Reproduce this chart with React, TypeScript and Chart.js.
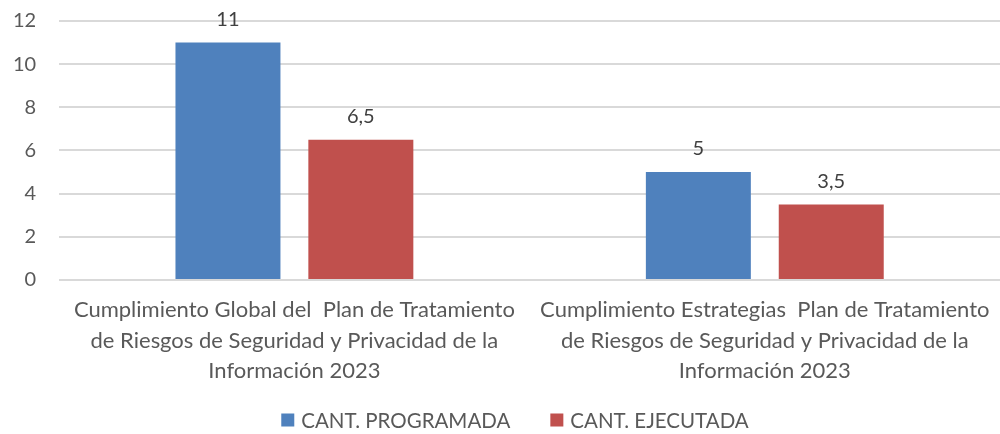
import React, { useEffect, useRef } from "react";
import { Chart, registerables } from "chart.js";

Chart.register(...registerables);

const categories: string[][] = [
  ["Cumplimiento Global del  Plan de Tratamiento", "de Riesgos de Seguridad y Privacidad de la", "Información 2023"],
  ["Cumplimiento Estrategias  Plan de Tratamiento", "de Riesgos de Seguridad y Privacidad de la", "Información 2023"],
];
const programada: number[] = [11, 5];
const ejecutada: number[] = [6.5, 3.5];
const seriesNames: string[] = ["CANT. PROGRAMADA", "CANT. EJECUTADA"];
const seriesColors: string[] = ["#4f81bd", "#c0504d"];

const FONT = "Lato, 'Open Sans', sans-serif";

const dataLabels = {
  id: "dataLabels",
  afterDatasetsDraw(chart: any) {
    const ctx = chart.ctx;
    ctx.save();
    ctx.font = `20px ${FONT}`;
    ctx.fillStyle = "#404040";
    ctx.textAlign = "center";
    ctx.textBaseline = "middle";
    chart.data.datasets.forEach((ds: any, i: number) => {
      const meta = chart.getDatasetMeta(i);
      meta.data.forEach((bar: any, j: number) => {
        const v = ds.data[j];
        ctx.fillText(String(v).replace(".", ","), bar.x, bar.y - 23);
      });
    });
    ctx.restore();
  },
};

const customLegend = {
  id: "customLegend",
  afterDraw(chart: any) {
    const ctx = chart.ctx;
    ctx.save();
    ctx.font = `20.5px ${FONT}`;
    const box = 13;
    const gapBox = 7;
    const gapItem = 40;
    const widths = chart.data.datasets.map((d: any) => box + gapBox + ctx.measureText(d.label).width);
    const total = widths.reduce((a: number, b: number) => a + b, 0) + gapItem * (widths.length - 1);
    let x = chart.width / 2 + 15 - total / 2;
    const y = 420;
    ctx.textBaseline = "middle";
    ctx.textAlign = "left";
    chart.data.datasets.forEach((d: any, i: number) => {
      ctx.fillStyle = d.backgroundColor;
      ctx.fillRect(x, y - box / 2, box, box);
      ctx.fillStyle = "#595959";
      ctx.fillText(d.label, x + box + gapBox, y + 1);
      x += widths[i] + gapItem;
    });
    ctx.restore();
  },
};

export default function App() {
  const ref = useRef<HTMLCanvasElement | null>(null);
  useEffect(() => {
    document.body.style.margin = "0";
    const chart = new Chart(ref.current!, {
      type: "bar",
      data: {
        labels: categories,
        datasets: [
          { label: seriesNames[0], data: programada, backgroundColor: seriesColors[0] },
          { label: seriesNames[1], data: ejecutada, backgroundColor: seriesColors[1] },
        ],
      },
      options: {
        responsive: false,
        animation: false,
        layout: { padding: { top: 21, right: 0, left: -10, bottom: 41 } },
        datasets: { bar: { categoryPercentage: 0.565, barPercentage: 0.79 } },
        plugins: {
          legend: { display: false },
          tooltip: { enabled: false },
        },
        scales: {
          x: {
            grid: { display: false },
            border: { display: false },
            ticks: {
              font: { family: FONT, size: 22, lineHeight: 1.38 },
              color: "#595959",
              maxRotation: 0,
              autoSkip: false,
              padding: 7,
            },
          },
          y: {
            min: 0,
            max: 12,
            afterFit: (s: any) => {
              s.paddingTop = 0;
              s.paddingBottom = 0;
            },
            ticks: {
              stepSize: 2,
              font: { family: FONT, size: 20, lineHeight: 1 },
              color: "#595959",
              padding: 23,
            },
            grid: { color: "#d9d9d9", lineWidth: 2, drawTicks: false },
            border: { display: false },
          },
        },
      },
      plugins: [dataLabels, customLegend],
    });
    return () => chart.destroy();
  }, []);
  return (
    <div style={{ position: "absolute", left: 0, top: 0, width: 1000, height: 434 }}>
      <canvas ref={ref} width={1000} height={434} />
    </div>
  );
}
